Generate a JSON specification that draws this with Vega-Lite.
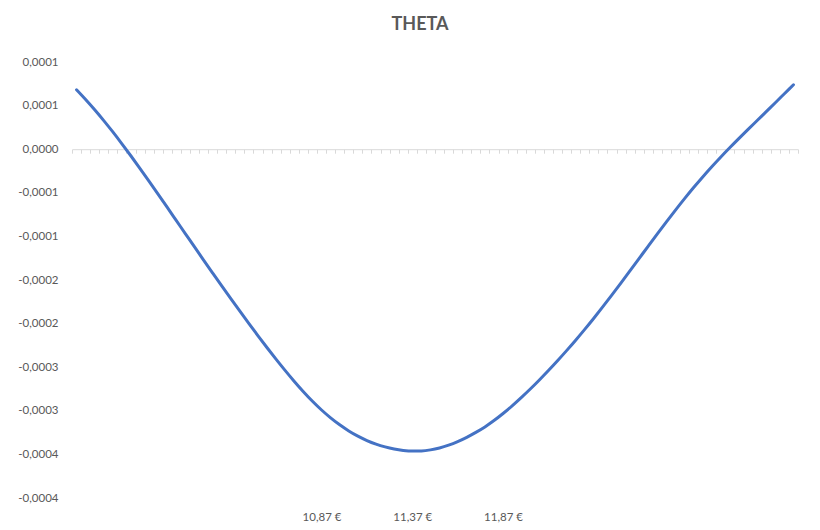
{
  "$schema": "https://vega.github.io/schema/vega-lite/v6.json",
  "autosize": "none",
  "width": 726,
  "height": 436,
  "padding": {"left": 72, "top": 62, "right": 22, "bottom": 32},
  "background": "white",
  "title": {
    "text": "THETA",
    "anchor": "middle",
    "frame": "group",
    "dx": -15,
    "offset": 22,
    "font": "Lato",
    "fontSize": 18,
    "fontWeight": "bold",
    "color": "#595959"
  },
  "data": {
    "values": [
      {"spot": 9.52, "theta": 0.0000682},
      {"spot": 9.57, "theta": 0.0000570},
      {"spot": 9.62, "theta": 0.0000452},
      {"spot": 9.67, "theta": 0.0000328},
      {"spot": 9.72, "theta": 0.0000198},
      {"spot": 9.77, "theta": 0.0000062},
      {"spot": 9.82, "theta": -0.0000078},
      {"spot": 9.87, "theta": -0.0000222},
      {"spot": 9.92, "theta": -0.0000369},
      {"spot": 9.97, "theta": -0.0000518},
      {"spot": 10.02, "theta": -0.0000668},
      {"spot": 10.07, "theta": -0.0000819},
      {"spot": 10.12, "theta": -0.0000970},
      {"spot": 10.17, "theta": -0.0001121},
      {"spot": 10.22, "theta": -0.0001271},
      {"spot": 10.27, "theta": -0.0001420},
      {"spot": 10.32, "theta": -0.0001568},
      {"spot": 10.37, "theta": -0.0001714},
      {"spot": 10.42, "theta": -0.0001858},
      {"spot": 10.47, "theta": -0.0002000},
      {"spot": 10.52, "theta": -0.0002140},
      {"spot": 10.57, "theta": -0.0002277},
      {"spot": 10.62, "theta": -0.0002410},
      {"spot": 10.67, "theta": -0.0002539},
      {"spot": 10.72, "theta": -0.0002663},
      {"spot": 10.77, "theta": -0.0002781},
      {"spot": 10.82, "theta": -0.0002891},
      {"spot": 10.87, "theta": -0.0002991},
      {"spot": 10.92, "theta": -0.0003081},
      {"spot": 10.97, "theta": -0.0003161},
      {"spot": 11.02, "theta": -0.0003231},
      {"spot": 11.07, "theta": -0.0003291},
      {"spot": 11.12, "theta": -0.0003341},
      {"spot": 11.17, "theta": -0.0003382},
      {"spot": 11.22, "theta": -0.0003414},
      {"spot": 11.27, "theta": -0.0003438},
      {"spot": 11.32, "theta": -0.0003454},
      {"spot": 11.37, "theta": -0.0003462},
      {"spot": 11.42, "theta": -0.0003460},
      {"spot": 11.47, "theta": -0.0003448},
      {"spot": 11.52, "theta": -0.0003426},
      {"spot": 11.57, "theta": -0.0003394},
      {"spot": 11.62, "theta": -0.0003353},
      {"spot": 11.67, "theta": -0.0003304},
      {"spot": 11.72, "theta": -0.0003248},
      {"spot": 11.77, "theta": -0.0003185},
      {"spot": 11.82, "theta": -0.0003112},
      {"spot": 11.87, "theta": -0.0003031},
      {"spot": 11.92, "theta": -0.0002943},
      {"spot": 11.97, "theta": -0.0002849},
      {"spot": 12.02, "theta": -0.0002750},
      {"spot": 12.07, "theta": -0.0002646},
      {"spot": 12.12, "theta": -0.0002538},
      {"spot": 12.17, "theta": -0.0002426},
      {"spot": 12.22, "theta": -0.0002310},
      {"spot": 12.27, "theta": -0.0002190},
      {"spot": 12.32, "theta": -0.0002066},
      {"spot": 12.37, "theta": -0.0001938},
      {"spot": 12.42, "theta": -0.0001806},
      {"spot": 12.47, "theta": -0.0001671},
      {"spot": 12.52, "theta": -0.0001533},
      {"spot": 12.57, "theta": -0.0001393},
      {"spot": 12.62, "theta": -0.0001252},
      {"spot": 12.67, "theta": -0.0001111},
      {"spot": 12.72, "theta": -0.0000971},
      {"spot": 12.77, "theta": -0.0000833},
      {"spot": 12.82, "theta": -0.0000698},
      {"spot": 12.87, "theta": -0.0000567},
      {"spot": 12.92, "theta": -0.0000440},
      {"spot": 12.97, "theta": -0.0000318},
      {"spot": 13.02, "theta": -0.0000201},
      {"spot": 13.07, "theta": -0.0000089},
      {"spot": 13.12, "theta": 0.0000019},
      {"spot": 13.17, "theta": 0.0000124},
      {"spot": 13.22, "theta": 0.0000227},
      {"spot": 13.27, "theta": 0.0000329},
      {"spot": 13.32, "theta": 0.0000431},
      {"spot": 13.37, "theta": 0.0000533},
      {"spot": 13.42, "theta": 0.0000636},
      {"spot": 13.47, "theta": 0.0000739}
    ]
  },
  "mark": {
    "type": "line",
    "color": "#4472C4",
    "strokeWidth": 3,
    "interpolate": "monotone",
    "strokeCap": "round"
  },
  "encoding": {
    "x": {
      "field": "spot",
      "type": "ordinal",
      "scale": {"type": "band", "paddingInner": 0, "paddingOuter": 0},
      "axis": {
        "title": null,
        "orient": "bottom",
        "offset": -348.8,
        "domainColor": "#d9d9d9",
        "domainWidth": 1,
        "tickColor": "#d9d9d9",
        "tickSize": 4,
        "tickBand": "extent",
        "tickExtra": true,
        "labelAngle": 0,
        "labelPadding": 358,
        "labelBaseline": "top",
        "labelOverlap": false,
        "labelExpr": "(abs(datum.value - 10.87) < 0.001 || abs(datum.value - 11.37) < 0.001 || abs(datum.value - 11.87) < 0.001) ? replace(format(datum.value, '.2f'), '.', ',') + ' €' : ''"
      }
    },
    "y": {
      "field": "theta",
      "type": "quantitative",
      "scale": {"domain": [-0.0004, 0.0001], "nice": false, "zero": false},
      "axis": {
        "title": null,
        "values": [0.0001, 0.00005, 0, -0.00005, -0.0001, -0.00015, -0.0002, -0.00025, -0.0003, -0.00035, -0.0004],
        "domain": false,
        "ticks": false,
        "grid": false,
        "labelPadding": 14,
        "labelExpr": "(datum.value < 0 ? '-' : '') + replace(format(round(abs(datum.value) * 10000 + 0.000001) / 10000, '.4f'), '.', ',')"
      }
    }
  },
  "config": {
    "view": {"stroke": null},
    "axis": {
      "labelFont": "Lato",
      "labelFontSize": 11.5,
      "labelColor": "#595959"
    }
  }
}
